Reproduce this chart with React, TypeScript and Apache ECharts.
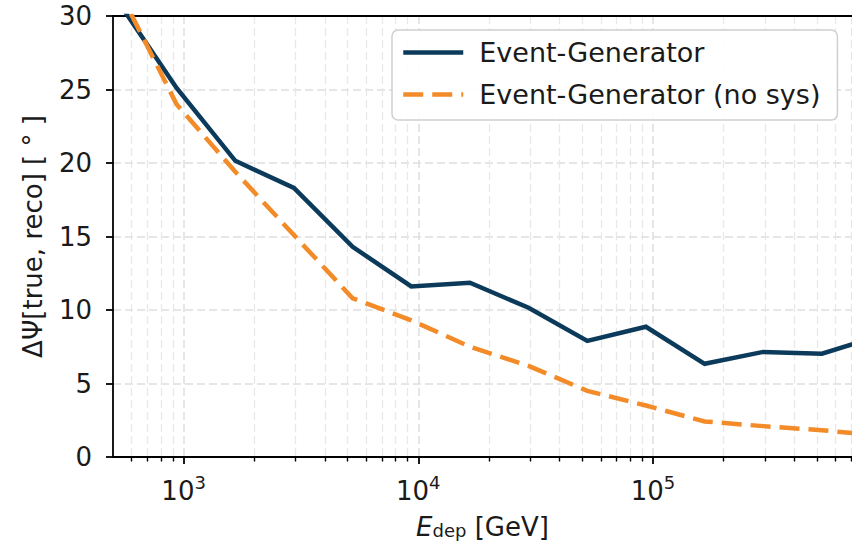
import React, { useEffect, useRef } from "react";
import * as echarts from "echarts";

// Energy bin centres [GeV]
const energies = [525, 933, 1660, 2950, 5250, 9330, 16600, 29500, 52500, 93300, 166000, 295000, 525000, 933000];
// ΔΨ [deg]
const eventGenerator = [31.0, 25.1, 20.15, 18.3, 14.3, 11.6, 11.85, 10.15, 7.9, 8.86, 6.34, 7.15, 7.03, 8.25];
const eventGeneratorNoSys = [31.9, 24.0, 19.4, 15.1, 10.8, 9.3, 7.5, 6.2, 4.5, 3.5, 2.42, 2.1, 1.82, 1.45];

const seriesNames = ["Event-Generator", "Event-Generator (no sys)"];
const xRange = [500, 705000];
const majorXTicks = [1e3, 1e4, 1e5];
const minorXTicks = [
  600, 700, 800, 900,
  2000, 3000, 4000, 5000, 6000, 7000, 8000, 9000,
  20000, 30000, 40000, 50000, 60000, 70000, 80000, 90000,
  200000, 300000, 400000, 500000, 600000, 700000,
];
const yRange = [0, 30];
const yStep = 5;

const FONT = "DejaVu Sans";
const TEXT = "#1a1a1a";
const NAVY = "#0c3a5b";
const ORANGE = "#f28b28";
const GRID = "#dedede";
const GRID_MINOR = "#e8e8e8";

const lg = (v: number) => Math.log10(v);

export default function App() {
  const ref = useRef<HTMLDivElement>(null);
  useEffect(() => {
    document.body.style.margin = "0";
    document.body.style.overflow = "hidden";
    if (!ref.current) return;
    const chart = echarts.init(ref.current, null, { renderer: "svg" });
    const xMin = lg(xRange[0]);
    const xMax = lg(xRange[1]);
    const axisLineStyle = { color: "#000", width: 1.8 };
    chart.setOption({
      animation: false,
      backgroundColor: "#fff",
      grid: { left: 113, top: 16, right: 0, height: 441, containLabel: false },
      legend: {
        orient: "vertical",
        left: 392,
        top: 30,
        itemWidth: 60,
        itemHeight: 14,
        itemGap: 12,
        padding: [7.5, 17, 10.5, 9],
        backgroundColor: "rgba(255,255,255,0.9)",
        borderColor: "#cfcfcf",
        borderWidth: 1.5,
        borderRadius: 6,
        textStyle: { fontSize: 27, fontFamily: FONT, color: TEXT, padding: [0, 0, 0, 11], lineHeight: 30 },
        lineStyle: { width: 4.5 },
        itemStyle: { color: "transparent", borderColor: "transparent", borderWidth: 0, opacity: 0 },
        data: seriesNames,
      },
      xAxis: [
        {
          type: "value",
          min: xMin,
          max: xMax,
          position: "bottom",
          axisLine: { show: true, lineStyle: axisLineStyle },
          axisTick: { show: true, length: 7, lineStyle: axisLineStyle, customValues: majorXTicks.map(lg) },
          axisLabel: {
            customValues: majorXTicks.map(lg),
            margin: 16,
            formatter: (v: number) => `{b|10}{s|${Math.round(v)}}`,
            rich: {
              b: { fontSize: 26, fontFamily: FONT, color: TEXT },
              s: { fontSize: 18, fontFamily: FONT, color: TEXT, padding: [0, 0, 17, 0] },
            },
          },
          splitLine: { show: true, lineStyle: { color: GRID, width: 1.5, type: [8, 4] } },
          name: "{i|E}{sub|dep}{n| [GeV]}",
          nameLocation: "middle",
          nameGap: 57,
          nameTextStyle: {
            rich: {
              i: { fontSize: 26, fontFamily: FONT, fontStyle: "italic", color: TEXT },
              sub: { fontSize: 18, fontFamily: FONT, color: TEXT, padding: [7.5, 0, 0, 0] },
              n: { fontSize: 26, fontFamily: FONT, color: TEXT },
            },
          },
        },
        {
          type: "value",
          min: xMin,
          max: xMax,
          position: "bottom",
          axisLine: { show: false },
          axisTick: { show: true, length: 4.5, lineStyle: { color: "#000", width: 1.4 }, customValues: minorXTicks.map(lg) },
          axisLabel: { show: false },
          splitLine: { show: true, lineStyle: { color: GRID_MINOR, width: 1.3, type: [8, 4] } },
        },
        {
          type: "value",
          min: xMin,
          max: xMax,
          position: "top",
          axisLine: { show: true, lineStyle: axisLineStyle },
          axisTick: { show: false },
          axisLabel: { show: false },
          splitLine: { show: false },
        },
      ],
      yAxis: {
        type: "value",
        min: yRange[0],
        max: yRange[1],
        interval: yStep,
        axisLine: { show: true, lineStyle: axisLineStyle },
        axisTick: { show: true, length: 7, lineStyle: axisLineStyle },
        axisLabel: { fontSize: 26, fontFamily: FONT, color: TEXT, margin: 21 },
        splitLine: { show: true, lineStyle: { color: GRID, width: 1.5, type: [8, 4] } },
        name: "ΔΨ[true, reco] [ ° ]",
        nameLocation: "middle",
        nameGap: 67,
        nameTextStyle: { fontSize: 26, fontFamily: FONT, color: TEXT },
      },
      series: [
        {
          name: seriesNames[0],
          type: "line",
          xAxisIndex: 0,
          data: energies.map((e, i) => [lg(e), eventGenerator[i]]),
          showSymbol: false,
          symbol: "none",
          clip: true,
          lineStyle: { color: NAVY, width: 4.5, cap: "butt", join: "miter" },
          itemStyle: { color: NAVY },
          z: 3,
        },
        {
          name: seriesNames[1],
          type: "line",
          xAxisIndex: 0,
          data: energies.map((e, i) => [lg(e), eventGeneratorNoSys[i]]),
          showSymbol: false,
          symbol: "none",
          clip: true,
          lineStyle: { color: ORANGE, width: 4.5, type: [20, 9], cap: "butt", join: "miter" },
          itemStyle: { color: ORANGE },
          z: 4,
        },
      ],
    });
    return () => chart.dispose();
  }, []);
  return <div ref={ref} style={{ width: 852, height: 548 }} />;
}
